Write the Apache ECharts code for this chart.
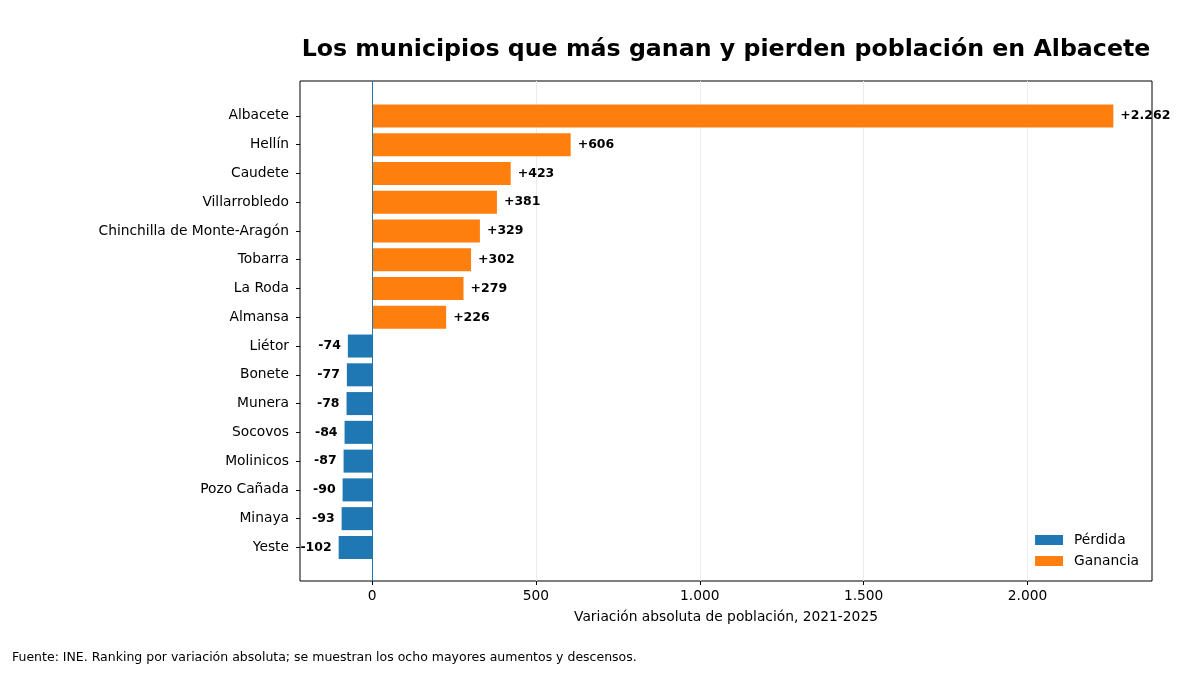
<!DOCTYPE html>
<html>
<head>
<meta charset="utf-8">
<script src="https://cdn.jsdelivr.net/npm/echarts@6/dist/echarts.min.js"></script>
<style>
html, body { margin: 0; padding: 0; background: #fff; }
#chart { width: 1200px; height: 675px; }
</style>
</head>
<body>
<div id="chart"></div>
<script>
var municipios = ['Albacete', 'Hellín', 'Caudete', 'Villarrobledo', 'Chinchilla de Monte-Aragón',
    'Tobarra', 'La Roda', 'Almansa', 'Liétor', 'Bonete', 'Munera', 'Socovos',
    'Molinicos', 'Pozo Cañada', 'Minaya', 'Yeste'];
var variacion = [2262, 606, 423, 381, 329, 302, 279, 226, -74, -77, -78, -84, -87, -90, -93, -102];
var xTicks = [0, 500, 1000, 1500, 2000];

var FONT = 'DejaVu Sans';
var AZUL = '#1f77b4', NARANJA = '#ff7f0e';

function miles(v) {
    return String(Math.abs(v)).replace(/\B(?=(\d{3})+(?!\d))/g, '.');
}

var perdida = variacion.map(function(v) { return v < 0 ? v : '-'; });
var ganancia = variacion.map(function(v) { return v >= 0 ? v : '-'; });

var chart = echarts.init(document.getElementById('chart'));
var option = {
    animation: false,
    textStyle: { fontFamily: FONT },
    title: [{
        text: 'Los municipios que más ganan y pierden población en Albacete',
        left: 726, top: 38, textAlign: 'center', padding: 0,
        textStyle: { fontFamily: FONT, fontSize: 23.7, fontWeight: 'bold', color: '#000' }
    }, {
        text: 'Fuente: INE. Ranking por variación absoluta; se muestran los ocho mayores aumentos y descensos.',
        left: 12, top: 651, padding: 0,
        textStyle: { fontFamily: FONT, fontSize: 12.5, fontWeight: 'normal', color: '#000' }
    }],
    legend: {
        data: ['Pérdida', 'Ganancia'],
        orient: 'vertical', icon: 'rect',
        right: 56, bottom: 102,
        itemWidth: 28, itemHeight: 10, itemGap: 7,
        textStyle: { fontFamily: FONT, fontSize: 13.8, color: '#000', padding: [0, 0, 0, 6] }
    },
    grid: [
        { left: 300, right: 48, top: 101.5, bottom: 113.2 },
        { left: 300, right: 48, top: 81, bottom: 94, show: true, borderColor: '#000', borderWidth: 1, backgroundColor: 'transparent' }
    ],
    xAxis: [{
        gridIndex: 0, type: 'value', min: -220, max: 2380, show: false
    }, {
        gridIndex: 1, type: 'value', min: -220, max: 2380,
        axisLine: { show: false },
        axisTick: { show: true, length: 4, customValues: xTicks, lineStyle: { color: '#000' } },
        axisLabel: {
            customValues: xTicks, color: '#000', fontSize: 13.8, margin: 8,
            formatter: function(v) { return (v < 0 ? '−' : '') + miles(v); }
        },
        splitLine: { show: true, lineStyle: { color: '#ebebeb', width: 1 } },
        name: 'Variación absoluta de población, 2021-2025',
        nameLocation: 'middle', nameGap: 29,
        nameTextStyle: { fontFamily: FONT, fontSize: 13.8, color: '#000' }
    }],
    yAxis: [{
        gridIndex: 0, type: 'category', data: municipios, inverse: true,
        axisLine: { show: false, onZero: false },
        axisTick: { show: true, alignWithLabel: true, length: 4, lineStyle: { color: '#000' } },
        axisLabel: { color: '#000', fontSize: 13.8, margin: 11 }
    }, {
        gridIndex: 1, type: 'value', min: 0, max: 1, show: false
    }],
    series: [{
        name: 'Pérdida', type: 'bar', xAxisIndex: 0, yAxisIndex: 0,
        data: perdida, barWidth: '80%', barGap: '-100%',
        itemStyle: { color: AZUL },
        label: {
            show: true, position: 'left', distance: 7,
            fontFamily: FONT, fontSize: 12.5, fontWeight: 'bold', color: '#000',
            formatter: function(p) { return '-' + miles(p.value); }
        }
    }, {
        name: 'Ganancia', type: 'bar', xAxisIndex: 0, yAxisIndex: 0,
        data: ganancia, barWidth: '80%', barGap: '-100%',
        itemStyle: { color: NARANJA },
        label: {
            show: true, position: 'right', distance: 7,
            fontFamily: FONT, fontSize: 12.5, fontWeight: 'bold', color: '#000',
            formatter: function(p) { return '+' + miles(p.value); }
        }
    }, {
        name: 'cero', type: 'line', xAxisIndex: 1, yAxisIndex: 1,
        data: [[0, 0]], symbol: 'none', silent: true,
        lineStyle: { opacity: 0 },
        markLine: {
            silent: true, symbol: 'none', label: { show: false },
            lineStyle: { color: AZUL, width: 1, type: 'solid' },
            data: [{ xAxis: 0 }]
        }
    }]
};
chart.setOption(option);
</script>
</body>
</html>
